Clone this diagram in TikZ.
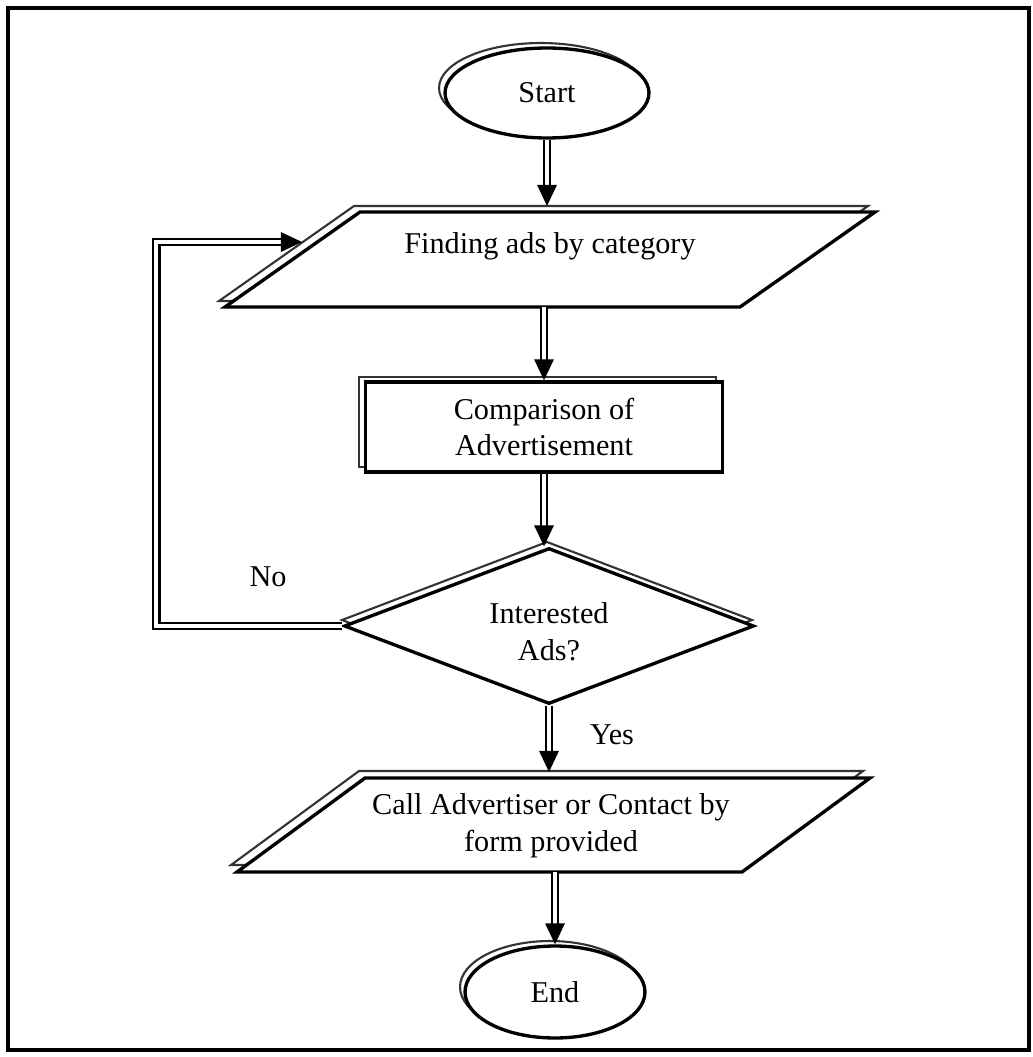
\documentclass[tikz,border=0pt]{standalone}
\usepackage{fontspec}
\setmainfont{Liberation Serif}
\usetikzlibrary{shapes.geometric,arrows.meta}
\begin{document}
\begin{tikzpicture}[x=0.02cm,y=-0.02cm,
  lbl/.style={font=\fontsize{17.2}{21}\selectfont, align=center, inner sep=0pt},
  box/.style={lbl, draw, line width=1.9pt, fill=white},
  mainline/.style={draw, line width=1.9pt, fill=white},
  shad/.style={draw, line width=1.2pt, black!80},
  flow/.style={double, double distance=2.2pt, line width=1.3pt, -{Triangle[length=12pt,width=11pt]}}]
\useasboundingbox (0,0) rectangle (1032,1057);
\draw[line width=1.8pt] (8,8) rectangle (1029,1050);

% Start
\draw[shad] (541,88) ellipse [x radius=2.04cm, y radius=0.9cm];
\node[box, ellipse, minimum width=4.08cm, minimum height=1.8cm] (start) at (547,93) {Start};

% Finding ads
\draw[shad] (354,206) -- (868,206) -- (733,301) -- (219,301) -- cycle;
\draw[mainline] (360,212) -- (875,212) -- (740,307) -- (225,307) -- cycle;
\node[lbl] (find) at (550,246) {Finding ads by category};
\coordinate (findN) at (547,206);
\coordinate (findS) at (544,307);
\coordinate (findW) at (302,242);

% Comparison
\draw[shad] (359,377) rectangle (716,467);
\node[box, minimum width=7.14cm, minimum height=1.8cm] (cmp) at (544,427) {Comparison of\\Advertisement};

% Decision
\draw[shad] (547,542) -- (752,620) -- (547,698) -- (342,620) -- cycle;
\node[box, diamond, minimum width=8.2cm, minimum height=3.12cm] (dec) at (549,626) {};
\node[lbl] (dectext) at (549,632) {Interested\\Ads?};

% Call
\draw[shad] (359,771) -- (863,771) -- (736,865) -- (231,865) -- cycle;
\draw[mainline] (365,778) -- (870,778) -- (742,872) -- (237,872) -- cycle;
\node[lbl] (call) at (551,826) {Call Advertiser or Contact by\\form provided};
\coordinate (callN) at (549,772);
\coordinate (callS) at (555,872);

% End
\draw[shad] (550,987) ellipse [x radius=1.8cm, y radius=0.92cm];
\node[box, ellipse, minimum width=3.6cm, minimum height=1.84cm] (end) at (555,992) {End};

% Labels
\node[lbl] (no) at (268,577) {No};
\node[lbl] (yes) at (612,735) {Yes};

% Connectors
\draw[flow] (start.south) -- (findN);
\draw[flow] (findS) -- (cmp.north);
\draw[flow] (cmp.south) -- (cmp.south |- dec.north);
\draw[flow] (dec.south) -- (callN);
\draw[flow] (callS) -- (end.north);
\draw[flow] (dec.west) -- ++(-186,0) |- (findW);
\end{tikzpicture}
\end{document}
